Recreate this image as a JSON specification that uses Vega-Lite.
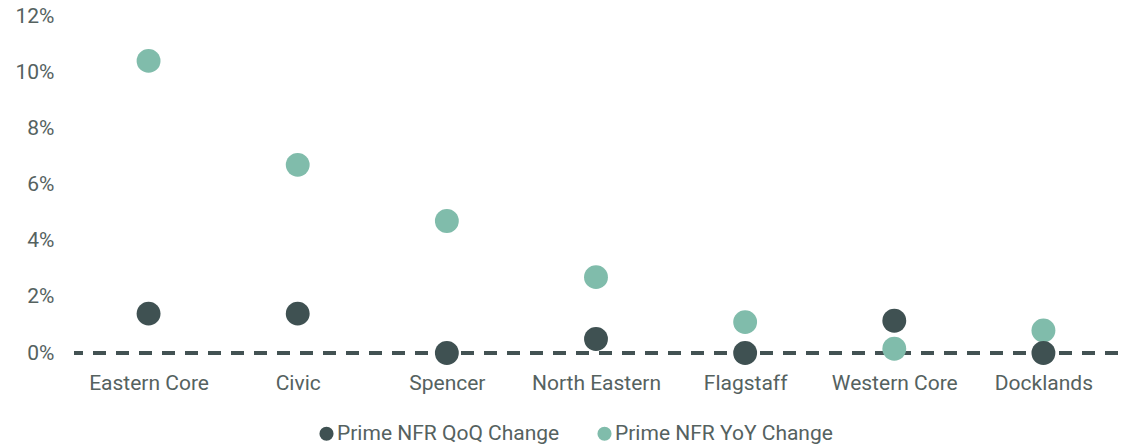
{
  "$schema": "https://vega.github.io/schema/vega-lite/v6.json",
  "width": 1044,
  "height": 337,
  "autosize": {"type": "none"},
  "padding": {"left": 74, "top": 16, "right": 15, "bottom": 95},
  "config": {
    "font": "Roboto",
    "view": {"stroke": null},
    "axis": {"labelColor": "#55625f", "labelFontSize": 21, "labelFont": "Roboto"},
    "legend": {"labelColor": "#55625f", "labelFontSize": 21, "labelFont": "Roboto"}
  },
  "data": {
    "values": [
      {"precinct": "Eastern Core", "series": "Prime NFR YoY Change", "change": 0.104},
      {"precinct": "Civic", "series": "Prime NFR YoY Change", "change": 0.067},
      {"precinct": "Spencer", "series": "Prime NFR YoY Change", "change": 0.047},
      {"precinct": "North Eastern", "series": "Prime NFR YoY Change", "change": 0.027},
      {"precinct": "Flagstaff", "series": "Prime NFR YoY Change", "change": 0.011},
      {"precinct": "Western Core", "series": "Prime NFR YoY Change", "change": 0.0015},
      {"precinct": "Docklands", "series": "Prime NFR YoY Change", "change": 0.008},
      {"precinct": "Eastern Core", "series": "Prime NFR QoQ Change", "change": 0.014},
      {"precinct": "Civic", "series": "Prime NFR QoQ Change", "change": 0.014},
      {"precinct": "Spencer", "series": "Prime NFR QoQ Change", "change": 0.0},
      {"precinct": "North Eastern", "series": "Prime NFR QoQ Change", "change": 0.005},
      {"precinct": "Flagstaff", "series": "Prime NFR QoQ Change", "change": 0.0},
      {"precinct": "Western Core", "series": "Prime NFR QoQ Change", "change": 0.0115},
      {"precinct": "Docklands", "series": "Prime NFR QoQ Change", "change": 0.0}
    ]
  },
  "layer": [
    {
      "mark": {"type": "rule", "color": "#435253", "strokeWidth": 3, "strokeDash": [13, 10]},
      "encoding": {"y": {"datum": 0, "type": "quantitative"}}
    },
    {
      "mark": {"type": "circle", "size": 570, "opacity": 1},
      "encoding": {
        "x": {
          "field": "precinct",
          "type": "nominal",
          "sort": ["Eastern Core", "Civic", "Spencer", "North Eastern", "Flagstaff", "Western Core", "Docklands"],
          "scale": {"type": "point", "padding": 0.5},
          "axis": {"title": null, "labelAngle": 0, "ticks": false, "domain": false, "labelPadding": 19, "grid": false}
        },
        "y": {
          "field": "change",
          "type": "quantitative",
          "scale": {"domain": [0, 0.12]},
          "axis": {
            "title": null,
            "format": ".0%",
            "values": [0, 0.02, 0.04, 0.06, 0.08, 0.1, 0.12],
            "ticks": false,
            "domain": false,
            "labelPadding": 20,
            "gridColor": "#e2e8e6",
            "gridWidth": 2
          }
        },
        "color": {
          "field": "series",
          "type": "nominal",
          "scale": {"domain": ["Prime NFR QoQ Change", "Prime NFR YoY Change"], "range": ["#3f5152", "#80bcab"]},
          "legend": {
            "title": null,
            "orient": "none",
            "direction": "horizontal",
            "legendX": 242,
            "legendY": 407,
            "symbolType": "circle",
            "symbolSize": 200,
            "symbolOpacity": 1,
            "labelOffset": 0,
            "labelLimit": 400,
            "columnPadding": 34
          }
        }
      }
    }
  ]
}
